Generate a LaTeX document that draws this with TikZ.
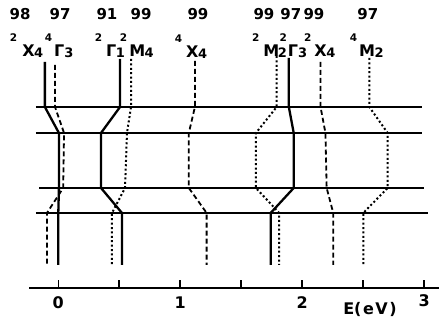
\documentclass[tikz,border=0pt]{standalone}
\usepackage{fontspec}
\setsansfont{DejaVu Sans}
\newcommand{\lvl}[5][3pt]{\llap{\fontsize{10.5}{10.5}\selectfont\raisebox{15pt}{#2}\hspace{#1}}#3\kern#5{\fontsize{13}{13}\selectfont\raisebox{-1pt}{#4}}}
\tikzset{
  ltrace/.style={line width=2.3pt},
  ldash/.style={line width=1.8pt, dash pattern=on 5pt off 3pt},
  ldot/.style={line width=2pt, dash pattern=on 2pt off 2.4pt},
  cut/.style={line width=1.6pt},
  term/.style={inner sep=0pt, anchor=base west, font=\sffamily\bfseries\fontsize{16}{16}\selectfont},
  pct/.style={inner sep=0pt, font=\sffamily\bfseries\fontsize{15}{15}\selectfont},
  tick/.style={inner sep=0pt, font=\sffamily\bfseries\fontsize{16}{16}\selectfont},
}
\begin{document}
\begin{tikzpicture}[x=122pt, y=1pt]
  \useasboundingbox (-0.478,0) rectangle (3.121,324);
  % the four cuts
  \draw[cut] (-0.183,217) -- (2.98,217);
  \draw[cut] (-0.183,191) -- (2.98,191);
  \draw[cut] (-0.158,136) -- (3.0,136);
  \draw[cut] (-0.183,111) -- (3.03,111);
  % level traces: style/top/x1/x2/x3/x4
  \foreach \st/\t/\a/\b/\c/\d in {
      ltrace/262/-0.11/0.005/0.005/0,
      ldash/259/-0.027/0.047/0.04/-0.093,
      ltrace/265/0.506/0.35/0.35/0.522,
      ldot/265/0.596/0.563/0.547/0.44,
      ldash/263/1.12/1.07/1.07/1.216,
      ldot/268/1.79/1.62/1.62/1.811,
      ltrace/266/1.89/1.93/1.93/1.741,
      ldash/262/2.15/2.19/2.20/2.254,
      ldot/266/2.55/2.70/2.70/2.50}
    \draw[\st] (\a,\t) -- (\a,217) -- (\b,191) -- (\c,136) -- (\d,111) -- (\d,59);
  % energy axis
  \draw[cut] (-0.24,36) -- (3.121,36);
  \foreach \e in {0,0.5,...,3}
    \draw[cut] (\e,36) -- (\e,44);
  \node[tick] (t0) at (0,21) {0};
  \node[tick] (t1) at (1,21) {1};
  \node[tick] (t2) at (2,21) {2};
  \node[tick] (t3) at (3,23) {3};
  \node[tick] (unit) at (2.555,14) {E(\kern1.5pt e\kern1.5pt V\kern1.5pt)};
  % state labels
  \node[term] (s1) at (-0.297,267) {\lvl[5pt]{2}{X}{4}{-0.5pt}};
  \node[term] (s2) at (-0.035,267) {\lvl[2pt]{4}{Γ}{3}{0pt}};
  \node[term] (s3) at (0.391,267) {\lvl[4pt]{2}{Γ}{1}{-0.5pt}};
  \node[term] (s4) at (0.580,267) {\lvl[2pt]{2}{M}{4}{-0.5pt}};
  \node[term] (s5) at (1.047,266) {\lvl[4pt]{4}{X}{4}{-0.5pt}};
  \node[term] (s6) at (1.680,267) {\lvl[4pt]{2}{M}{2}{-1.5pt}};
  \node[term] (s7) at (1.880,267) {\lvl[1pt]{2}{Γ}{3}{0pt}};
  \node[term] (s8) at (2.098,267) {\lvl[3pt]{2}{X}{4}{-0.5pt}};
  \node[term] (s9) at (2.465,267) {\lvl[2pt]{4}{M}{2}{-0.5pt}};
  % weights
  \node[pct] (p1) at (-0.314,310) {98};
  \node[pct] (p2) at (0.014,310) {97};
  \node[pct] (p3) at (0.399,310) {91};
  \node[pct] (p4) at (0.678,310) {99};
  \node[pct] (p5) at (1.145,310) {99};
  \node[pct] (p6) at (1.686,310) {99};
  \node[pct] (p7) at (1.907,310) {97};
  \node[pct] (p8) at (2.096,310) {99};
  \node[pct] (p9) at (2.538,310) {97};
\end{tikzpicture}
\end{document}
